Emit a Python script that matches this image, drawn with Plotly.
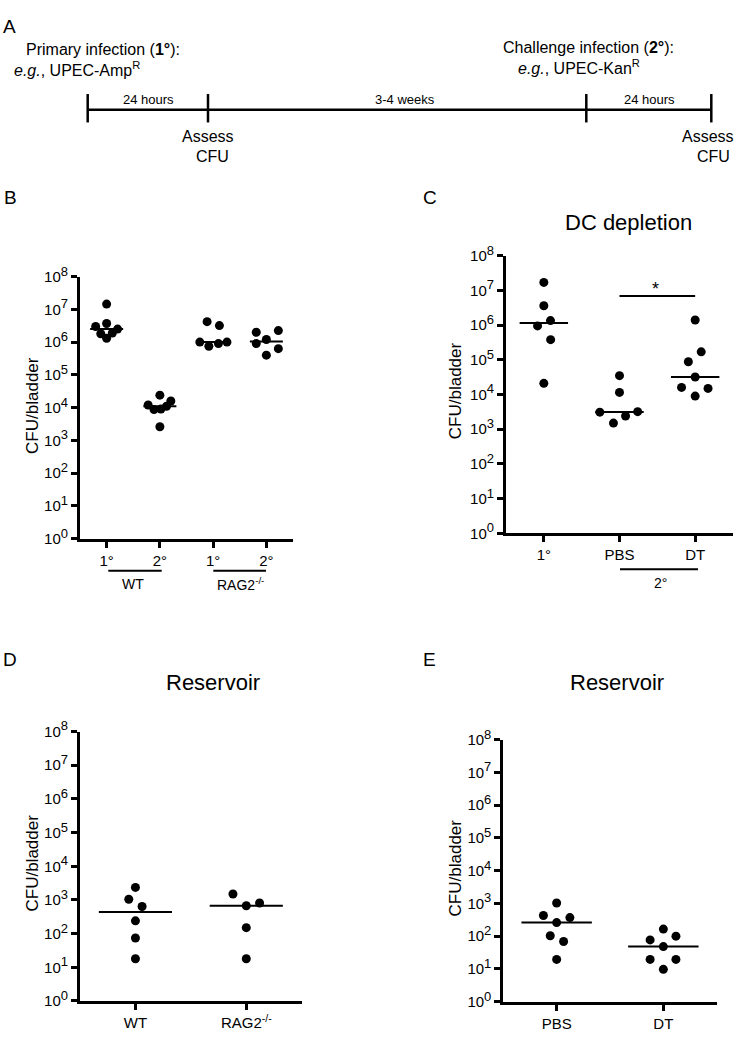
import numpy as np
import plotly.graph_objects as go

W, H = 738, 1042
FONT = "Liberation Sans, Arial, sans-serif"
NARROW = "Liberation Sans Narrow, Arial Narrow, Liberation Sans, sans-serif"

# ---------------- data (CFU/bladder) ----------------
B_ticklabels = ["1°", "2°", "1°", "2°"]
B_wt_primary = [1.45e7, 3.0e6, 3.7e6, 2.5e6, 1.8e6, 1.9e6, 1.3e6]
B_wt_challenge = [2.4e4, 1.6e4, 1.2e4, 1.1e4, 8.7e3, 9.1e3, 2.6e3]
B_rag_primary = [4.2e6, 3.2e6, 1.0e6, 1.0e6, 7.5e5, 9.0e5]
B_rag_challenge = [2.0e6, 2.25e6, 1.2e6, 9.0e5, 6.3e5, 4.0e5]

C_ticklabels = ["1°", "PBS", "DT"]
C_primary = [1.7e7, 3.6e6, 1.35e6, 9.5e5, 3.8e5, 2.1e4]
C_pbs = [3.5e4, 1.15e4, 3.1e3, 3.2e3, 2.4e3, 1.5e3]
C_dt = [1.4e6, 1.7e5, 8.8e4, 3.2e4, 1.6e4, 1.5e4, 9.0e3]

D_ticklabels = ["WT", "RAG2<sup>-/-</sup>"]
D_wt = [2.35e3, 1.05e3, 6.4e2, 2.4e2, 74, 18]
D_rag = [1.5e3, 8.1e2, 6.7e2, 1.5e2, 18]

E_ticklabels = ["PBS", "DT"]
E_pbs = [1.03e3, 4.3e2, 3.7e2, 2.6e2, 1.03e2, 69, 19.5]
E_dt = [1.65e2, 77, 100, 48, 19.5, 19.5, 9.7]

# horizontal spread of overlapping dots (category units)
B_spread = [[0, -0.206, 0, 0.206, -0.11, 0.107, 0],
            [0, 0.206, -0.22, 0.125, -0.11, 0.02, 0],
            [-0.113, 0.118, -0.25, 0.26, -0.08, 0.1],
            [-0.19, 0.225, 0, -0.19, 0.225, 0]]
C_spread = [[0, 0, 0.088, -0.083, 0.09, 0],
            [0, 0, -0.26, 0.24, 0.08, -0.08],
            [0, 0.08, -0.09, 0, -0.18, 0.17, 0]]
D_spread = [[0, -0.06, 0.06, 0, 0, 0],
            [-0.12, 0.12, 0, 0, 0]]
E_spread = [[0, -0.124, 0.124, 0, -0.06, 0.065, 0],
            [0, -0.124, 0.118, 0, -0.124, 0.118, 0]]

ytick_vals = [10.0 ** k for k in range(9)]
ytick_text = ["10<sup><span style='font-size:13px'>%d</span></sup>" % k for k in range(9)]


def px(x):
    return x / W


def py(y):
    return 1 - y / H


fig = go.Figure()


def add_panel(groups, spreads, xa, ya, half):
    for i, (vals, dx) in enumerate(zip(groups, spreads)):
        c = i + 1
        fig.add_trace(go.Scatter(
            x=[c + d for d in dx], y=vals, mode="markers",
            marker=dict(color="black", size=9, line=dict(width=0)),
            xaxis=xa, yaxis=ya, showlegend=False, hoverinfo="skip"))
        med = float(np.median(vals))
        fig.add_trace(go.Scatter(
            x=[c - half, c + half], y=[med, med], mode="lines",
            line=dict(color="black", width=2),
            xaxis=xa, yaxis=ya, showlegend=False, hoverinfo="skip"))


add_panel([B_wt_primary, B_wt_challenge, B_rag_primary, B_rag_challenge], B_spread, "x", "y", 0.31)
add_panel([C_primary, C_pbs, C_dt], C_spread, "x2", "y2", 0.32)
add_panel([D_wt, D_rag], D_spread, "x3", "y3", 0.33)
add_panel([E_pbs, E_dt], E_spread, "x4", "y4", 0.33)

# significance bar in C
sig_level = 10 ** 6.84
fig.add_trace(go.Scatter(x=[2, 3], y=[sig_level, sig_level], mode="lines",
                         line=dict(color="black", width=2), xaxis="x2", yaxis="y2",
                         showlegend=False, hoverinfo="skip"))

axis_common = dict(showline=True, linewidth=3, linecolor="black", ticks="outside",
                   ticklen=6, tickwidth=3, tickcolor="black", showgrid=False,
                   zeroline=False, fixedrange=True,
                   tickfont=dict(family=FONT, size=15, color="black"))


def yaxis(dom, anchor):
    return dict(axis_common, type="log", range=[0, 8], domain=dom, anchor=anchor,
                tickvals=ytick_vals, ticktext=ytick_text)


def xaxis(dom, anchor, n, labels):
    return dict(axis_common, range=[0.5, n + 0.5], domain=dom, anchor=anchor,
                tickvals=list(range(1, n + 1)), ticktext=labels)


annotations = []


def text(x, y, s, size, family=FONT, **kw):
    annotations.append(dict(x=px(x), y=py(y), xref="paper", yref="paper", text=s,
                            showarrow=False, font=dict(family=family, size=size, color="black"),
                            xanchor=kw.pop("xanchor", "center"), yanchor=kw.pop("yanchor", "middle"), **kw))


# Panel letters
text(9, 14, "A", 19)
text(10, 188, "B", 19)
text(430, 188, "C", 19)
text(10, 660, "D", 19)
text(430, 660, "E", 19)

# Panel A timeline texts
text(103, 37, "Primary infection (<b>1°</b>):", 16)
text(77, 57, "<i>e.g.</i>, UPEC-Amp<sup>R</sup>", 16)
text(588, 35, "Challenge infection (<b>2°</b>):", 16)
text(579, 55, "<i>e.g.</i>, UPEC-Kan<sup>R</sup>", 16)
text(148, 88, "24 hours", 13, family=NARROW)
text(405, 88, "3-4 weeks", 13, family=NARROW)
text(649, 88, "24 hours", 13, family=NARROW)
text(208, 126, "Assess", 16)
text(212, 146, "CFU", 16)
text(708, 126, "Assess", 16)
text(713, 146, "CFU", 16)

# titles
text(628, 214, "DC depletion", 22)
text(213, 683, "Reservoir", 22)
text(617, 683, "Reservoir", 22)

# y-axis titles
for (x, y) in [(33, 401), (455, 386), (33, 868), (455, 873)]:
    text(x, y, "CFU/bladder", 17, textangle=-90)

# group labels
text(133, 583, "WT", 14)
text(240, 583, "RAG2<sup>-/-</sup>", 14)
text(660, 582, "2°", 14)

# significance star
annotations.append(dict(x=2.47, y=7.03, xref="x2", yref="y2", text="*", showarrow=False,
                        font=dict(family=FONT, size=18, color="black")))

shapes = []


def hline(x0, x1, y, w):
    shapes.append(dict(type="line", xref="paper", yref="paper", x0=px(x0), x1=px(x1),
                       y0=py(y), y1=py(y), line=dict(color="black", width=w)))


def vline(x, y0, y1, w):
    shapes.append(dict(type="line", xref="paper", yref="paper", x0=px(x), x1=px(x),
                       y0=py(y0), y1=py(y1), line=dict(color="black", width=w)))


# timeline
hline(87.7, 711.3, 98.7, 2.5)
for xt in [87.7, 208, 586.3, 711.3]:
    vline(xt, 82.7, 111.7, 2.5)

# group underlines
hline(108.3, 161.7, 569.3, 2)
hline(213.3, 266, 569.3, 2)
hline(620, 698, 567.7, 2)

fig.update_layout(
    width=W, height=H, margin=dict(l=0, r=0, t=0, b=0),
    paper_bgcolor="white", plot_bgcolor="white", showlegend=False,
    xaxis=xaxis([px(80), px(293)], "y", 4, B_ticklabels),
    yaxis=yaxis([py(536.5), py(269)], "x"),
    xaxis2=xaxis([px(506), px(733)], "y2", 3, C_ticklabels),
    yaxis2=yaxis([py(531), py(247.7)], "x2"),
    xaxis3=xaxis([px(80), px(301.7)], "y3", 2, D_ticklabels),
    yaxis3=yaxis([py(1008.3), py(733.3)], "x3"),
    xaxis4=xaxis([px(503.3), px(716.7)], "y4", 2, E_ticklabels),
    yaxis4=yaxis([py(1009), py(741.7)], "x4"),
    annotations=annotations, shapes=shapes,
)

fig.write_html("out.html", config={"displayModeBar": False, "staticPlot": True},
               post_script="document.body.style.margin='0';document.body.style.overflow='hidden';")
